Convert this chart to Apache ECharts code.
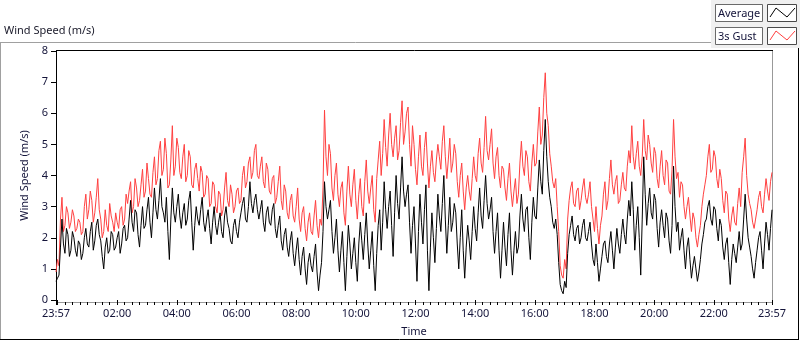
<!DOCTYPE html>
<html>
<head>
<meta charset="utf-8">
<script src="https://cdn.jsdelivr.net/npm/echarts@6/dist/echarts.min.js"></script>
<style>
  html, body { margin: 0; padding: 0; background: #fff; }
  #chart { width: 800px; height: 342px; }
</style>
</head>
<body>
<div id="chart"></div>
<script>
// time axis labels (first label is the start of the 24 h window)
const timeLabels = ['23:57', '02:00', '04:00', '06:00', '08:00', '10:00', '12:00',
                    '14:00', '16:00', '18:00', '20:00', '22:00', '23:57'];
const yTicks = [0, 1, 2, 3, 4, 5, 6, 7, 8];
const stepMinutes = 3; // one sample every 3 min from 23:57

const seriesNames = ['Average', '3s Gust'];

const gust = [
  0.9, 1.3, 1.1, 2.6, 3.3, 2.2, 2.4, 3.0, 2.8, 2.3, 2.5, 2.9, 2.7, 2.2, 2.3, 2.6, 2.5, 2.1, 2.2, 3.0,
  3.4, 2.6, 2.9, 3.5, 3.2, 2.5, 2.8, 3.3, 3.9, 2.9, 2.6, 2.0, 2.2, 2.9, 2.4, 2.2, 3.1, 2.7, 2.5, 2.2,
  2.8, 2.5, 2.3, 2.9, 3.0, 2.4, 2.6, 3.4, 3.1, 3.5, 3.8, 2.8, 3.0, 3.9, 3.6, 3.0, 3.2, 3.7, 4.2, 3.3,
  3.5, 4.4, 3.9, 3.4, 3.3, 4.1, 4.6, 3.7, 3.9, 4.8, 5.1, 4.0, 4.2, 5.2, 4.7, 3.6, 3.7, 4.5, 5.6, 4.0,
  4.3, 5.2, 4.9, 4.1, 3.9, 4.6, 5.0, 3.8, 4.0, 4.8, 4.6, 3.7, 3.6, 4.2, 4.4, 3.9, 3.5, 4.3, 4.1, 3.3,
  3.4, 4.0, 3.9, 3.0, 3.1, 3.8, 3.7, 3.0, 2.8, 3.5, 3.4, 2.7, 2.9, 3.6, 4.1, 3.2, 3.0, 3.7, 3.4, 2.8,
  3.0, 3.5, 3.6, 3.1, 3.2, 4.0, 4.3, 3.6, 3.8, 4.4, 4.6, 3.9, 4.1, 4.8, 5.0, 4.0, 3.9, 4.3, 4.6, 3.8,
  3.6, 4.4, 4.2, 3.5, 3.4, 3.9, 4.0, 3.1, 3.3, 3.8, 4.3, 3.2, 2.9, 3.7, 3.5, 2.8, 2.6, 3.2, 3.4, 2.7,
  2.5, 3.0, 3.6, 2.6, 2.2, 2.8, 3.0, 2.3, 1.9, 2.5, 2.8, 2.2, 2.1, 2.7, 3.2, 2.4, 2.0, 2.6, 2.4, 3.6,
  6.1, 4.6, 4.0, 5.0, 4.7, 3.6, 3.2, 4.0, 4.4, 3.4, 3.0, 3.6, 3.8, 2.8, 2.4, 3.5, 4.3, 3.4, 3.0, 3.7,
  4.2, 3.2, 2.6, 3.4, 3.9, 3.0, 2.7, 3.8, 4.5, 3.5, 3.1, 3.6, 4.0, 2.9, 2.5, 3.9, 4.5, 5.1, 4.0, 4.7,
  5.8, 4.9, 4.3, 5.3, 6.0, 5.0, 4.6, 5.2, 5.6, 4.5, 4.8, 5.7, 6.4, 5.0, 5.4, 6.0, 6.2, 5.0, 4.3, 5.6,
  5.0, 4.2, 3.7, 4.6, 5.3, 4.3, 4.0, 4.9, 5.4, 4.4, 3.6, 4.3, 4.8, 4.1, 3.8, 4.5, 5.0, 4.6, 4.2, 5.1,
  5.6, 4.6, 3.9, 4.5, 5.2, 4.1, 4.4, 5.0, 4.7, 3.8, 3.3, 4.0, 4.4, 3.5, 2.9, 3.6, 4.0, 3.5, 3.2, 3.9,
  4.6, 4.0, 3.8, 4.7, 5.2, 4.4, 4.1, 4.9, 5.9, 4.8, 4.5, 5.0, 5.5, 4.4, 3.9, 4.6, 4.9, 4.0, 3.6, 4.3,
  4.2, 3.6, 3.2, 3.9, 4.4, 3.5, 3.0, 3.5, 3.9, 3.1, 3.4, 4.4, 5.1, 4.3, 4.0, 4.8, 4.6, 3.8, 3.5, 4.4,
  5.0, 4.3, 4.4, 5.4, 6.2, 5.0, 5.3, 6.5, 7.3, 6.0, 5.6, 4.7, 4.3, 3.8, 3.6, 3.9, 3.0, 2.2, 1.1, 0.8,
  0.7, 1.3, 1.0, 2.6, 3.2, 3.6, 3.8, 3.1, 3.0, 3.5, 3.6, 2.9, 3.2, 3.6, 3.9, 3.3, 3.1, 3.4, 3.8, 3.0,
  2.6, 2.2, 3.0, 2.3, 1.8, 2.4, 2.7, 3.4, 3.8, 2.9, 3.2, 3.9, 4.5, 3.7, 3.4, 3.8, 4.0, 3.1, 3.2, 3.7,
  4.1, 3.6, 3.5, 4.3, 4.8, 4.4, 5.6, 4.6, 4.2, 4.7, 5.1, 4.3, 4.0, 4.6, 5.8, 4.8, 4.5, 5.3, 5.0, 4.4,
  4.1, 4.9, 4.7, 3.9, 3.6, 4.3, 4.8, 4.0, 3.7, 4.5, 4.4, 3.5, 3.4, 4.2, 5.8, 4.6, 3.9, 4.1, 3.3, 3.8,
  3.7, 3.0, 2.6, 3.0, 3.3, 2.7, 2.2, 2.8, 2.6, 2.0, 1.7, 2.1, 2.4, 3.0, 3.4, 3.7, 4.0, 4.6, 5.0, 4.1,
  4.2, 4.8, 4.6, 3.9, 3.6, 4.2, 3.9, 3.2, 2.8, 3.5, 3.4, 2.6, 2.2, 2.7, 3.0, 2.5, 2.4, 3.1, 3.6, 3.0,
  4.1, 4.6, 5.2, 4.0, 3.4, 3.1, 2.9, 2.5, 2.3, 2.6, 2.9, 3.3, 3.5, 3.0, 2.8, 3.4, 3.9, 3.5, 3.2, 3.8,
  4.1
];

const average = [
  0.6, 0.7, 0.8, 1.7, 2.6, 1.8, 1.5, 2.3, 2.1, 1.4, 1.6, 2.2, 2.0, 1.6, 1.4, 1.9, 1.8, 1.3, 1.5, 2.0,
  2.3, 1.8, 1.7, 2.2, 2.5, 1.6, 1.9, 2.4, 2.6, 2.1, 1.9, 1.4, 1.0, 1.7, 2.0, 1.5, 1.6, 2.2, 2.1, 1.6,
  1.7, 2.0, 2.2, 1.5, 1.8, 2.3, 2.4, 1.9, 2.0, 2.6, 3.2, 2.5, 2.2, 2.9, 2.8, 2.1, 1.7, 2.4, 3.0, 2.3,
  2.4, 2.9, 3.3, 2.5, 2.0, 2.8, 3.6, 2.9, 2.6, 3.2, 3.9, 3.0, 2.8, 2.5, 3.3, 2.2, 1.3, 2.6, 3.6, 2.8,
  2.5, 3.0, 3.4, 2.7, 2.3, 2.8, 3.1, 2.4, 2.6, 3.2, 3.5, 2.5, 1.6, 2.4, 3.0, 2.6, 2.4, 2.9, 3.3, 2.5,
  2.2, 2.6, 2.9, 2.3, 1.8, 2.5, 3.0, 2.4, 2.1, 2.5, 2.8, 2.2, 2.0, 2.7, 3.0, 2.5, 2.3, 1.9, 1.8, 2.4,
  2.6, 2.2, 2.0, 2.5, 2.8, 3.1, 3.3, 2.6, 2.5, 3.0, 3.8, 3.1, 2.8, 3.2, 3.4, 2.9, 2.6, 2.9, 3.2, 2.5,
  2.2, 2.8, 3.0, 2.5, 2.4, 2.9, 3.1, 2.3, 2.0, 2.4, 2.7, 1.9, 1.6, 2.1, 2.3, 1.7, 1.4, 1.9, 2.2, 1.5,
  1.1, 1.6, 2.0, 1.3, 0.8, 1.4, 1.7, 1.0, 0.5, 1.2, 1.5, 1.1, 0.9, 1.4, 1.8, 0.9, 0.3, 0.8, 1.2, 2.2,
  3.8, 3.0, 2.6, 2.9, 3.2, 2.2, 1.5, 2.0, 2.6, 1.6, 0.9, 1.6, 2.2, 1.2, 0.3, 1.4, 2.4, 1.8, 1.0, 1.5,
  2.0, 1.2, 0.6, 1.8, 2.5, 1.9, 1.3, 2.1, 2.8, 1.8, 1.0, 1.6, 2.2, 1.1, 0.3, 1.5, 2.4, 2.9, 1.6, 2.5,
  3.8, 2.9, 2.3, 3.0, 3.5, 2.4, 1.4, 2.8, 4.0, 3.1, 2.6, 3.6, 4.6, 3.5, 3.0, 3.4, 3.7, 2.5, 1.5, 2.4,
  3.0, 1.8, 0.6, 2.2, 3.4, 2.5, 1.8, 2.9, 3.7, 1.6, 0.3, 1.7, 2.8, 2.0, 1.2, 2.3, 3.4, 2.7, 2.2, 3.1,
  4.0, 2.6, 1.5, 2.4, 3.3, 2.2, 2.5, 3.1, 2.8, 1.8, 1.0, 2.0, 2.9, 1.6, 0.7, 1.7, 2.4, 1.9, 1.3, 2.2,
  3.0, 2.3, 1.9, 2.8, 3.6, 2.7, 2.3, 3.2, 4.0, 3.1, 2.6, 2.9, 3.3, 2.2, 1.5, 2.2, 2.8, 1.6, 0.7, 1.6,
  2.5, 1.7, 1.1, 2.1, 2.8, 1.6, 0.8, 1.6, 2.2, 1.5, 1.7, 2.7, 3.4, 2.6, 2.2, 2.9, 3.0, 2.0, 1.3, 2.5,
  3.3, 2.7, 2.6, 3.6, 4.5, 3.8, 3.4, 4.8, 5.8, 4.6, 3.8, 3.3, 3.0, 2.5, 2.3, 2.6, 2.1, 1.2, 0.5, 0.3,
  0.2, 0.6, 0.4, 1.5, 2.1, 2.4, 2.7, 2.1, 1.9, 2.3, 2.4, 1.8, 2.0, 2.4, 2.6, 2.0, 1.9, 2.2, 2.5, 1.8,
  1.3, 1.1, 1.8, 1.2, 0.6, 1.0, 1.4, 1.8, 1.9, 1.4, 1.2, 1.8, 2.2, 1.6, 1.0, 1.7, 2.3, 1.8, 1.5, 2.1,
  2.6, 2.1, 1.8, 2.6, 3.2, 2.7, 3.8, 2.9, 1.6, 2.4, 3.0, 2.0, 0.8, 2.6, 4.6, 3.4, 2.4, 3.1, 3.6, 2.8,
  2.6, 3.4, 3.2, 2.3, 1.7, 2.5, 2.9, 2.4, 2.0, 2.8, 2.6, 1.9, 1.5, 2.4, 4.3, 3.0, 2.2, 2.5, 1.6, 2.0,
  2.3, 1.6, 1.0, 1.7, 2.0, 1.3, 0.7, 1.1, 1.4, 1.0, 0.6, 0.9, 1.3, 1.8, 2.1, 2.5, 2.6, 3.0, 3.2, 2.6,
  2.4, 3.0, 2.9, 2.3, 1.9, 2.6, 2.4, 1.7, 1.3, 1.8, 2.0, 1.2, 0.5, 1.3, 1.8, 1.5, 1.2, 1.7, 2.2, 1.6,
  1.8, 2.6, 3.4, 2.6, 2.0, 1.7, 1.4, 1.0, 0.7, 1.2, 1.6, 2.0, 2.2, 1.6, 1.0, 1.8, 2.5, 2.1, 1.6, 2.3,
  2.9
];

const FONT = '"Noto Sans", sans-serif';
const TXT = '#14143a';
const GRID = { left: 56, top: 51, right: 28, bottom: 40 };
const W = 800, H = 342;

// minutes since the start time (23:57)
const startMin = 23 * 60 + 57;
function toOffset(label, i) {
  if (i === timeLabels.length - 1) return 1440;
  const [h, m] = label.split(':').map(Number);
  return (h * 60 + m - startMin + 1440) % 1440;
}
const labelValues = timeLabels.map(toOffset);
const labelMap = {};
labelValues.forEach((v, i) => { labelMap[v] = timeLabels[i]; });

// major ticks: start, midnight and each labelled hour; minor every 15 min
const majorTicks = labelValues.concat([3]).sort((a, b) => a - b);
const minorTicks = [];
for (let m = 3; m < 1440; m += 15) {
  if (majorTicks.indexOf(m) < 0) minorTicks.push(m);
}

const toPairs = arr => arr.map((v, i) => [i * stepMinutes, v]);

const chart = echarts.init(document.getElementById('chart'), null, { renderer: 'canvas' });

const x0 = GRID.left, x1 = W - GRID.right, y0 = GRID.top, y1 = H - GRID.bottom;

function zigzag(x, y, color) {
  return {
    type: 'polyline',
    shape: { points: [[x + 2, y + 13], [x + 8, y + 4], [x + 19, y + 13], [x + 27, y + 4]] },
    style: { stroke: color, lineWidth: 1, fill: null }
  };
}

function legendItem(name, color, y) {
  return [
    { type: 'rect', shape: { x: 715.5, y: y + 0.5, width: 47, height: 17 },
      style: { fill: '#fff', stroke: '#6a6a6a', lineWidth: 1 } },
    { type: 'text', x: 718, y: y + 9.5,
      style: { text: name, font: '11px ' + FONT, fill: TXT, verticalAlign: 'middle' } },
    { type: 'rect', shape: { x: 767.5, y: y + 0.5, width: 29, height: 17 },
      style: { fill: '#fff', stroke: '#4a4a4a', lineWidth: 1 } },
    zigzag(768, y, color)
  ];
}

const option = {
  animation: false,
  backgroundColor: '#fff',
  grid: GRID,
  xAxis: [{
    type: 'value', min: 0, max: 1440, position: 'bottom', offset: 2,
    axisLine: { show: false },
    axisTick: { show: true, length: 5, customValues: majorTicks, lineStyle: { color: '#000' } },
    axisLabel: {
      customValues: labelValues, formatter: v => labelMap[v] || '',
      margin: 6, color: TXT, fontFamily: FONT, fontSize: 11
    },
    splitLine: { show: false },
    name: 'Time', nameLocation: 'middle', nameGap: 24,
    nameTextStyle: { color: TXT, fontFamily: FONT, fontSize: 11 }
  }, {
    type: 'value', min: 0, max: 1440, position: 'bottom', offset: 2,
    axisLine: { show: false },
    axisTick: { show: true, length: 3, customValues: minorTicks, lineStyle: { color: '#000' } },
    axisLabel: { show: false },
    splitLine: { show: false }
  }],
  yAxis: {
    type: 'value', min: yTicks[0], max: yTicks[yTicks.length - 1], interval: 1, offset: 3,
    axisLine: { show: false },
    axisTick: { show: true, length: 5, lineStyle: { color: '#000' } },
    axisLabel: { margin: 5, color: TXT, fontFamily: FONT, fontSize: 11 },
    splitLine: { show: false },
    name: 'Wind Speed (m/s)', nameLocation: 'middle', nameGap: 19, nameRotate: 90,
    nameTextStyle: { color: TXT, fontFamily: FONT, fontSize: 11 }
  },
  series: [{
    name: seriesNames[1], type: 'line', data: toPairs(gust),
    showSymbol: false, silent: true,
    lineStyle: { color: '#ff4040', width: 1 }
  }, {
    name: seriesNames[0], type: 'line', data: toPairs(average),
    showSymbol: false, silent: true,
    lineStyle: { color: '#000', width: 1 }
  }],
  graphic: [
    // outer frame
    { type: 'line', shape: { x1: 0, y1: 42.5, x2: 711, y2: 42.5 }, style: { stroke: '#a0a0a0', lineWidth: 1 } },
    { type: 'line', shape: { x1: 0.5, y1: 42, x2: 0.5, y2: 340 }, style: { stroke: '#a0a0a0', lineWidth: 1 } },
    { type: 'line', shape: { x1: 0, y1: 339.5, x2: 799, y2: 339.5 }, style: { stroke: '#000', lineWidth: 1 } },
    { type: 'line', shape: { x1: 798.5, y1: 48, x2: 798.5, y2: 340 }, style: { stroke: '#000', lineWidth: 1 } },
    { type: 'rect', shape: { x: 711, y: 0, width: 89, height: 48 }, style: { fill: '#f0f0f0' }, z: -1 },
    { type: 'text', x: 4, y: 31,
      style: { text: 'Wind Speed (m/s)', font: '11px ' + FONT, fill: '#1a1a2a', verticalAlign: 'middle' } },
    // plot frame
    { type: 'line', shape: { x1: x0, y1: y0 - 0.5, x2: x1 + 1, y2: y0 - 0.5 }, style: { stroke: '#000', lineWidth: 1 } },
    { type: 'line', shape: { x1: x0 + 0.5, y1: y0, x2: x0 + 0.5, y2: y1 }, style: { stroke: '#000', lineWidth: 1 } },
    { type: 'line', shape: { x1: x1 + 0.5, y1: y0, x2: x1 + 0.5, y2: y1 + 1 }, style: { stroke: '#999', lineWidth: 1 } },
    { type: 'line', shape: { x1: x0, y1: y1 + 0.5, x2: x1 + 1, y2: y1 + 0.5 }, style: { stroke: '#999', lineWidth: 1 } }
  ].concat(legendItem(seriesNames[0], '#000', 4), legendItem(seriesNames[1], '#ff4040', 27))
};

chart.setOption(option);
</script>
</body>
</html>
